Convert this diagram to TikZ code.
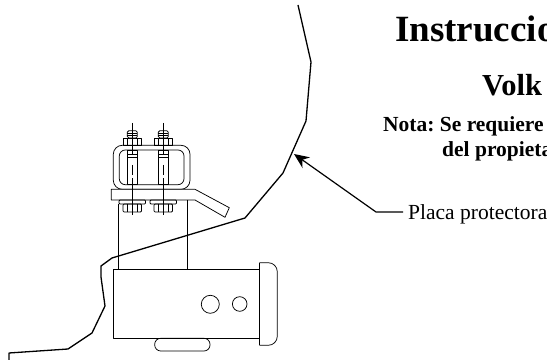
\documentclass[tikz,border=0pt]{standalone}
\usepackage{fontspec}
\setmainfont{Liberation Serif}
\frenchspacing
\usetikzlibrary{arrows.meta}
\tikzstyle{thinline}=[line width=0.75pt,line join=round]
\tikzstyle{edgeline}=[line width=1.3pt,line join=round]
\tikzstyle{pointer}=[-{Stealth[length=15pt,width=13pt]},line width=1.2pt]
\tikzstyle{heading}=[anchor=base west,inner sep=0pt,font=\bfseries]
\tikzstyle{caption}=[anchor=base west,inner sep=0pt]

\begin{document}
\begin{tikzpicture}[x=1pt,y=-1pt]
  \useasboundingbox (0,0) rectangle (547,363);
  \clip (0,0) rectangle (547,363);
  % Texts
  \node[heading] (title) at (395,41.7) {\fontsize{37}{40}\selectfont Instruccio};
  \node[heading] (make) at (482,96) {\fontsize{30.5}{33}\selectfont Volk};
  \node[heading] (note) at (383,132) {\fontsize{21.5}{24}\selectfont Nota: Se requiere};
  \node[heading] (owner) at (442,157) {\fontsize{21.5}{24}\selectfont del propieta};
  \node[caption] (placa) at (408,220) {\fontsize{21.5}{24}\selectfont Placa protectora};
  % Outline of the guard plate
  \draw[edgeline] (298,5) -- (311,62) -- (306,121) -- (283,173) -- (245,218)
    -- (112,258) -- (101,266) -- (101,277) -- (105,306) -- (92,333) -- (68,349)
    -- (9,353) -- (9,360);
  % Leader, from the text to the outline
  \coordinate (tip) at (294,154);
  \coordinate (elbow) at (376,212);
  \draw[pointer] (placa.west |- elbow) ++(-5,0) -- (elbow) -- (tip);
  % U frame
  \draw[thinline,rounded corners=9pt] (113.3,145.3) rectangle (190,189.3);
  \draw[thinline,rounded corners=6pt] (119.3,150) rectangle (184,184.7);
  % Bent plate
  \draw[thinline,fill=white] (111.3,189.3) -- (195,189.3) -- (229.3,207.7) -- (225,217.3)
    -- (195,200) -- (111.3,200) -- cycle;
  % Bolts, nuts and washers
  \foreach \bx in {132.3,163.3} {
    % top nut and bolt end
    \draw[thinline,fill=white,rounded corners=1.5pt] (\bx-5,130.7) rectangle (\bx+5,138);
    \draw[thinline] (\bx-5,133.3) -- (\bx+5,133.3) (\bx-5,135.6) -- (\bx+5,135.6);
    \draw[thinline] (\bx-9.2,138) rectangle (\bx+9.2,145.3);
    \draw[thinline] (\bx-5,138) -- (\bx-5,145.3) (\bx+5,138) -- (\bx+5,145.3);
    % sleeve
    \draw[thinline] (\bx-5,150.7) rectangle (\bx+5,184.7);
    \draw[thinline] (\bx-5,154) -- (\bx+5,154) (\bx-5,157.3) -- (\bx+5,157.3);
    % washer and lower nut
    \draw[thinline,rounded corners=1pt] (\bx-13.3,200) rectangle (\bx+13.3,204);
    \draw[thinline,rounded corners=1pt] (\bx-9.2,204) rectangle (\bx+9.2,212);
    \draw[thinline] (\bx-5,204) -- (\bx-5,212) (\bx+5,204) -- (\bx+5,212);
    % centre line
    \draw[thinline] (\bx,123) -- (\bx,155) (\bx,165) -- (\bx,175) (\bx,178.5) -- (\bx,215);
  }
  % Posts and body of the hitch
  \draw[thinline] (118.7,204) -- (118.7,269.3) (187.3,200) -- (187.3,269.3);
  \draw[thinline] (113,269.3) rectangle (259.3,338.3);
  \draw[thinline,rounded corners=9pt] (259.3,262.7) -- (277.3,262.7) -- (277.3,345.3) -- (259.3,345.3);
  \draw[thinline] (259.3,262.7) -- (259.3,345.3);
  \draw[thinline] (210.3,304.3) circle (9);
  \draw[thinline] (239.7,304) circle (7.3);
  \draw[thinline,rounded corners=6pt] (154.7,338.3) rectangle (210,351);
\end{tikzpicture}
\end{document}
